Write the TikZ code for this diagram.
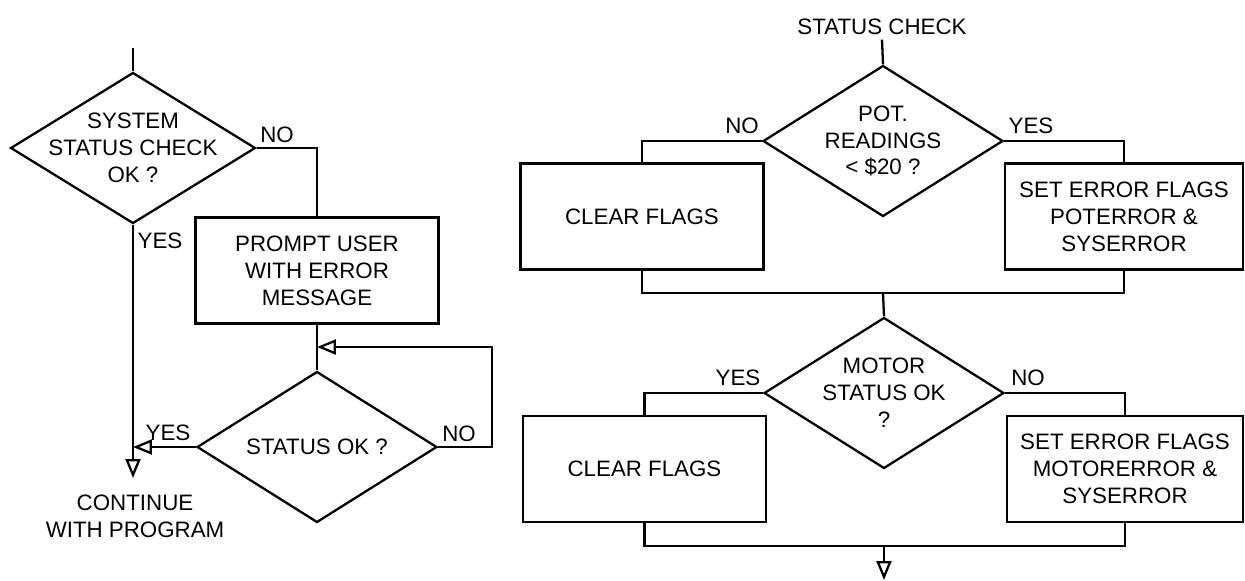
\documentclass[tikz,border=0pt]{standalone}
\usepackage{fontspec}
\setmainfont{Liberation Sans}
\usepackage{tikz}
\usetikzlibrary{arrows.meta, shapes.geometric}
\newcommand{\chartfont}{\fontsize{12.7pt}{15.3pt}\selectfont}

\begin{document}
\begin{tikzpicture}[x=0.02cm, y=-0.02cm, line width=1.3pt,
    >={Triangle[open, length=0.38cm, width=0.3cm]},
    decision/.style={draw, diamond, inner sep=0pt, minimum width=4.8cm, minimum height=3.02cm},
    process/.style={draw, rectangle, inner sep=0pt, minimum width=4.86cm, minimum height=2.12cm,
      align=center, font=\chartfont},
    txt/.style={align=center, inner sep=2pt, font=\chartfont},
    tag/.style={inner sep=0pt, font=\chartfont}]
  \useasboundingbox (0,0) rectangle (1245,581);

  % left part: system check with retry loop
  \coordinate (start) at (133,48);
  \node[decision, minimum width=4.9cm] (sys) at (133,148) {};
  \node[txt] (sysq) at (sys) {SYSTEM\\STATUS CHECK\\OK ?};
  \node[process] (prompt) at (317,270.5) {PROMPT USER\\WITH ERROR\\MESSAGE};
  \node[decision] (stat) at (317,447) {};
  \node[txt] (statq) at (stat) {STATUS OK ?};
  \coordinate (back) at (492,347);
  \coordinate (loop) at (317,347);
  \coordinate (merge) at (133,447);
  \coordinate (cont) at (133,478);
  \node[txt] (contq) at (135,516) {CONTINUE\\WITH PROGRAM};

  \draw (start) -- (sys.north);
  \draw (sys.east) -| (prompt.north);
  \draw (prompt.south) -- (stat.north);
  \draw[->] (stat.east) -| (back) -- (loop);
  \draw[->] (stat.west) -- (merge);
  \draw[->] (sys.south) -- (cont);

  \node[tag] (sysno) at (277,135) {NO};
  \node[tag] (sysyes) at (160,241) {YES};
  \node[tag] (statyes) at (168,433) {YES};
  \node[tag] (statno) at (459,434) {NO};

  % right part: status check subroutine
  \node[txt] (check) at (882,27) {STATUS CHECK};
  \node[decision] (pot) at (883,141) {};
  \node[txt] (potq) at (pot) {POT.\\READINGS\\< \$20 ?};
  \node[process] (clr1) at (642,216.5) {CLEAR FLAGS};
  \node[process, minimum width=4.76cm] (err1) at (1124,216.5) {SET ERROR FLAGS\\POTERROR \&\\SYSERROR};
  \coordinate (join1) at (883,293);
  \node[decision] (mot) at (884,393) {};
  \node[txt] (motq) at (mot) {MOTOR\\STATUS OK\\?};
  \node[process] (clr2) at (644.5,469) {CLEAR FLAGS};
  \node[process, minimum width=4.72cm] (err2) at (1125,469) {SET ERROR FLAGS\\MOTORERROR \&\\SYSERROR};
  \coordinate (join2) at (884,546);
  \coordinate (done) at (884,580);

  \draw (check.south) -- (pot.north);
  \draw (pot.west) -| (clr1.north);
  \draw (pot.east) -| (err1.north);
  \draw (clr1.south) |- (join1) -| (err1.south);
  \draw (join1) -- (mot.north);
  \draw (mot.west) -| (clr2.north);
  \draw (mot.east) -| (err2.north);
  \draw (clr2.south) |- (join2) -| (err2.south);
  \draw[->] (join2) -- (done);

  \node[tag] (potno) at (742,126) {NO};
  \node[tag] (potyes) at (1031,126) {YES};
  \node[tag] (motyes) at (738,378) {YES};
  \node[tag] (motno) at (1028,378) {NO};
\end{tikzpicture}
\end{document}
